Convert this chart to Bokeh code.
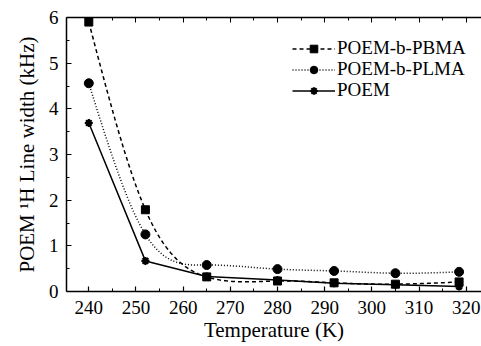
import numpy as np
from bokeh.plotting import figure
from bokeh.models import (Range1d, LinearAxis, Legend, LegendItem, FixedTicker,
                          ColumnDataSource, CustomJSTickFormatter, Title)
from bokeh.embed import file_html
from bokeh.resources import INLINE

# ---- data ----
temperature = [240, 252, 265, 280, 292, 305, 318.5]
pbma = [5.90, 1.79, 0.32, 0.23, 0.19, 0.16, 0.21]
plma = [4.56, 1.25, 0.58, 0.49, 0.45, 0.40, 0.43]
poem = [3.69, 0.67, 0.33, 0.25, 0.18, 0.15, 0.11]

series_names = ["POEM-b-PBMA", "POEM-b-PLMA", "POEM"]
x_ticks = [240, 250, 260, 270, 280, 290, 300, 310, 320]
x_minor = [235, 245, 255, 265, 275, 285, 295, 305, 315, 325]
y_ticks = [0, 1, 2, 3, 4, 5, 6]
y_minor = [0.5, 1.5, 2.5, 3.5, 4.5, 5.5]

FONT = "Liberation Serif"


def natural_spline(x, y, n=300):
    """Smooth connecting curve (natural cubic spline) through the data points."""
    x = np.asarray(x, float)
    y = np.asarray(y, float)
    k = len(x)
    h = np.diff(x)
    A = np.zeros((k, k))
    b = np.zeros(k)
    A[0, 0] = 1
    A[-1, -1] = 1
    for i in range(1, k - 1):
        A[i, i - 1] = h[i - 1]
        A[i, i] = 2 * (h[i - 1] + h[i])
        A[i, i + 1] = h[i]
        b[i] = 6 * ((y[i + 1] - y[i]) / h[i] - (y[i] - y[i - 1]) / h[i - 1])
    M = np.linalg.solve(A, b)
    xs = np.linspace(x[0], x[-1], n)
    idx = np.clip(np.searchsorted(x, xs) - 1, 0, k - 2)
    x0, x1 = x[idx], x[idx + 1]
    hh = x1 - x0
    t0 = x1 - xs
    t1 = xs - x0
    ys = (M[idx] * t0 ** 3 / (6 * hh) + M[idx + 1] * t1 ** 3 / (6 * hh)
          + (y[idx] / hh - M[idx] * hh / 6) * t0
          + (y[idx + 1] / hh - M[idx + 1] * hh / 6) * t1)
    return xs, ys


p = figure(width=481, height=346,
           x_range=Range1d(235.27, 323.25), y_range=Range1d(0, 6),
           output_backend="svg", toolbar_location=None,
           min_border_left=66, min_border_right=0,
           min_border_top=17, min_border_bottom=55)
p.outline_line_color = None
p.xgrid.visible = False
p.ygrid.visible = False
p.background_fill_color = "white"
p.border_fill_color = "white"

# axes
for ax in (p.xaxis[0], p.yaxis[0]):
    ax.axis_line_width = 1.5
    ax.axis_line_color = "black"
    ax.major_tick_in = 5
    ax.major_tick_out = 0
    ax.minor_tick_in = 3
    ax.minor_tick_out = 0
    ax.major_tick_line_width = 1.2
    ax.minor_tick_line_width = 1
    ax.major_tick_line_color = "black"
    ax.minor_tick_line_color = "black"
    ax.major_label_text_font = FONT
    ax.major_label_text_font_size = "19px"
    ax.major_label_text_color = "black"
    ax.axis_label_text_font = FONT
    ax.axis_label_text_font_size = "21px"
    ax.axis_label_text_font_style = "normal"
    ax.axis_label_text_color = "black"

p.xaxis[0].ticker = FixedTicker(ticks=x_ticks, minor_ticks=x_minor)
p.yaxis[0].ticker = FixedTicker(ticks=y_ticks, minor_ticks=y_minor)
p.xaxis[0].axis_label = "Temperature (K)"
p.xaxis[0].major_label_standoff = 9
p.yaxis[0].major_label_standoff = 8
p.xaxis[0].axis_label_standoff = 1

# y-axis title, a little above the middle of the frame as in the reference
ytitle = Title(text="POEM \u00b9H Line width (kHz)", align="center", offset=14,
               standoff=13, text_font=FONT, text_font_size="21px",
               text_font_style="normal", text_color="black")
p.add_layout(ytitle, "left")

top = LinearAxis(ticker=FixedTicker(ticks=x_ticks, minor_ticks=x_minor),
                 formatter=CustomJSTickFormatter(code="return ''"))
top.axis_line_width = 1.5
top.major_tick_in = 5
top.major_tick_out = 0
top.minor_tick_in = 3
top.minor_tick_out = 0
top.major_label_standoff = 0
top.major_label_text_font_size = "1px"
p.add_layout(top, "above")

# series
styles = [
    (pbma, "4 3", "square", 8),
    (plma, "1 2", "circle", 9),
    (poem, "solid", "asterisk", 8),
]
legend_rows_y = [232, 211, 190]   # legend row positions (screen px above frame bottom)
for name, (vals, dash, marker, size), ly_pos in zip(series_names, styles, legend_rows_y):
    if dash == "solid":
        lx, ly = temperature, vals
    else:
        lx, ly = natural_spline(temperature, vals)
    lr = p.line(x=lx, y=ly, line_color="black", line_width=1.5, line_dash=dash)
    src = ColumnDataSource(dict(x=temperature, y=vals))
    if marker == "asterisk":
        sr = p.scatter("x", "y", source=src, marker=marker, size=size,
                       line_color="black", line_width=2.2)
    else:
        sr = p.scatter("x", "y", source=src, marker=marker, size=size,
                       fill_color="black", line_color="black")
    legend = Legend(items=[LegendItem(label=name, renderers=[lr, sr])],
                    location=(226, ly_pos),
                    glyph_width=43, glyph_height=19, label_height=19,
                    label_standoff=2, spacing=0, padding=0, margin=0,
                    border_line_color=None, background_fill_alpha=0,
                    label_text_font=FONT, label_text_font_size="19px",
                    label_text_color="black")
    p.add_layout(legend)

open("out.html", "w").write(file_html(p, INLINE))
